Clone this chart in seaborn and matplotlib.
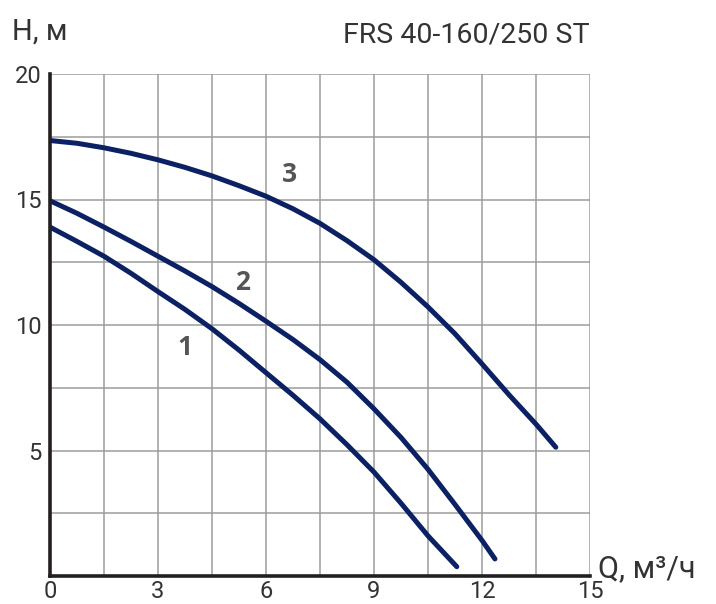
import matplotlib
matplotlib.use("Agg")
import matplotlib.pyplot as plt
import seaborn as sns
import pandas as pd

# Pump curves (Q in m3/h, H in m)
q1 = [0, 0.75, 1.5, 2.25, 3, 3.75, 4.5, 5.25, 6, 6.75, 7.5, 8.25, 9, 9.75, 10.5, 11.3]
h1 = [13.9, 13.33, 12.74, 12.06, 11.33, 10.62, 9.85, 9.0, 8.1, 7.2, 6.26, 5.23, 4.14, 2.9, 1.6, 0.37]
q2 = [0, 0.75, 1.5, 2.25, 3, 3.75, 4.5, 5.25, 6, 6.75, 7.5, 8.25, 9, 9.75, 10.5, 11.25, 12, 12.36]
h2 = [14.95, 14.45, 13.9, 13.33, 12.74, 12.15, 11.53, 10.86, 10.15, 9.42, 8.62, 7.72, 6.66, 5.52, 4.25, 2.85, 1.42, 0.68]
q3 = [0, 0.75, 1.5, 2.25, 3, 3.75, 4.5, 5.25, 6, 6.75, 7.5, 8.25, 9, 9.75, 10.5, 11.25, 12, 12.75, 13.5, 14.05]
h3 = [17.35, 17.24, 17.06, 16.84, 16.58, 16.28, 15.94, 15.55, 15.13, 14.63, 14.05, 13.36, 12.6, 11.7, 10.72, 9.65, 8.45, 7.22, 6.05, 5.13]

curve_labels = ["1", "2", "3"]
label_pos_q = [3.75, 5.36, 6.64]
label_pos_h = [9.1, 11.7, 16.0]

x_ticks = [0, 3, 6, 9, 12, 15]
y_ticks = [5, 10, 15, 20]

sns.set_style("white")
plt.rcParams['font.family'] = ['Roboto', 'DejaVu Sans']

navy = "#0c2163"
grid_c = "#9c9c9e"
text_c = "#333333"

fig = plt.figure(figsize=(7.16, 6.04), dpi=100)
ax = fig.add_axes([50 / 716, 1 - 576 / 604, 540 / 716, 502 / 604])

df = pd.concat([
    pd.DataFrame({"Q": q1, "H": h1, "curve": "1"}),
    pd.DataFrame({"Q": q2, "H": h2, "curve": "2"}),
    pd.DataFrame({"Q": q3, "H": h3, "curve": "3"}),
])
sns.lineplot(data=df, x="Q", y="H", units="curve", estimator=None, sort=False,
             color=navy, linewidth=3.6, ax=ax, zorder=3,
             solid_capstyle="round", solid_joinstyle="round")

ax.set_xlim(0, 15)
ax.set_ylim(0, 20)

# grid every 1.5 on Q and 2.5 on H
for gx in [i * 1.5 for i in range(1, 11)]:
    ax.axvline(gx, color=grid_c, linewidth=1.1, zorder=1)
for gy in [i * 2.5 for i in range(1, 9)]:
    ax.axhline(gy, color=grid_c, linewidth=1.1, zorder=1)

ax.set_xticks(x_ticks)
ax.set_yticks(y_ticks)
ax.tick_params(axis="both", length=0, labelsize=17, colors=text_c)
ax.tick_params(axis="x", pad=3)
ax.tick_params(axis="y", pad=6)
ax.set_xlabel("")
ax.set_ylabel("")

for side in ["top", "right"]:
    ax.spines[side].set_visible(False)
for side in ["left", "bottom"]:
    ax.spines[side].set_color("#231f20")
    ax.spines[side].set_linewidth(2.6)
    ax.spines[side].set_zorder(4)

for lab, lq, lh in zip(curve_labels, label_pos_q, label_pos_h):
    ax.text(lq, lh, lab, ha="center", va="center", fontsize=19,
            fontweight="bold", color="#555555", family=["Open Sans", "DejaVu Sans"])

fig.text(12 / 716, 1 - 40 / 604, "H, м", fontsize=21, color=text_c, va="baseline")
fig.text(590 / 716, 1 - 42 / 604, "FRS 40-160/250 ST", fontsize=20.5, color=text_c,
         ha="right", va="baseline")
fig.text(598 / 716, 1 - 577 / 604, "Q, м³/ч", fontsize=22, color=text_c, va="baseline")

fig.savefig("out.png", dpi=100)
